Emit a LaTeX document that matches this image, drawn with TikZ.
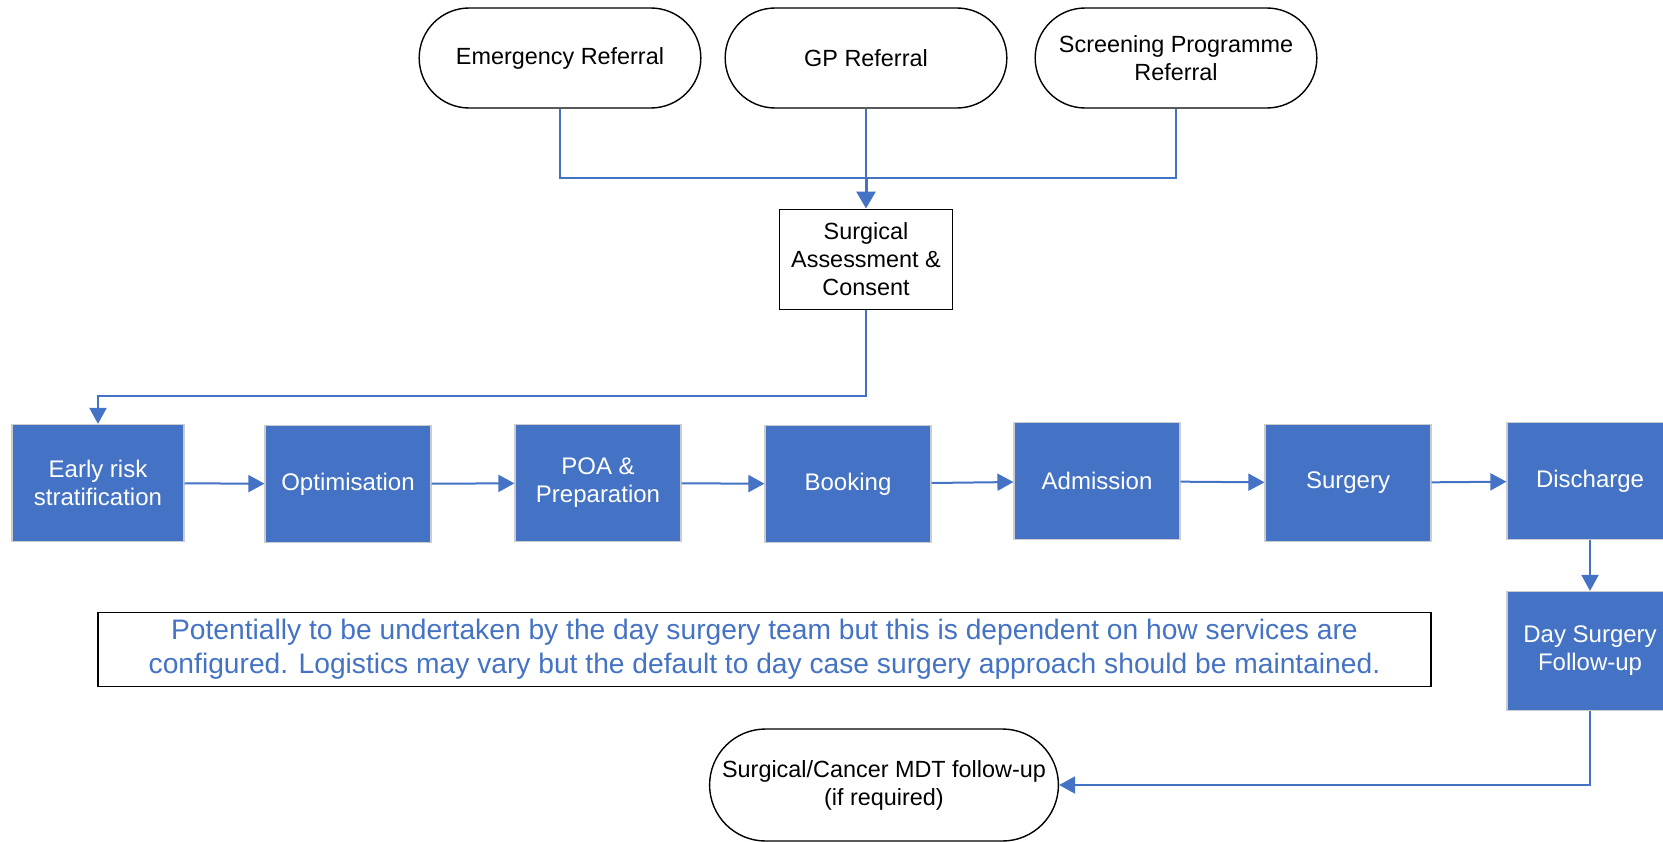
\documentclass[tikz,border=0pt]{standalone}
\usepackage{fontspec}
\setmainfont{Liberation Sans}
\usetikzlibrary{shapes.misc,arrows.meta}
\definecolor{azul}{HTML}{4472C4}
\tikzset{
	term/.style={draw,rounded rectangle,line width=.7pt,minimum width=147.5pt,minimum height=50pt,align=center,font=\fontsize{11.7}{14}\selectfont},
	caja/.style={draw,line width=.5pt,minimum width=86.5pt,minimum height=50pt,align=center,font=\fontsize{11.7}{14}\selectfont},
	paso/.style={draw=black!20,fill=azul,text=white,line width=.6pt,minimum width=83pt,minimum height=58.5pt,align=center,font=\fontsize{12}{14}\selectfont},
	linea/.style={draw=azul,line width=1pt},
	flecha/.style={linea,-{Triangle[length=8pt,width=8.5pt]}}
}
\begin{document}
\begin{tikzpicture}[x=.5pt,y=-.5pt]
			%vias de derivacion
			\useasboundingbox (0,0)rectangle(1663,841);
			\clip (0,0)rectangle(1663,841);
			\node [term] (emerg) at (560,58) {Emergency Referral};
			\node [term] (gp) at (866,58) {GP Referral};
			\node [term] (screen) at (1176,58) {Screening Programme\\Referral};
			\node [caja] (sa) at (866,259) {Surgical\\Assessment \&\\Consent};
			\coordinate (bus) at (866,178);
			\draw [linea] (emerg.south)|-(bus)-|(screen.south);
			\draw [linea] (gp.south)--(bus);
			\draw [flecha,line width=1.5pt,-{Triangle[length=8.5pt,width=9.5pt]}] (bus)--(sa.north);
			%camino del paciente
			\node [paso,minimum width=86pt] (early) at (98,483) {Early risk\\stratification};
			\node [paso] (opt) at (348,484) {Optimisation};
			\node [paso] (poa) at (598,483) {POA \&\\Preparation};
			\node [paso] (book) at (848,484) {Booking};
			\node [paso] (adm) at (1097,481) {Admission};
			\node [paso] (surg) at (1348,483) {Surgery};
			\node [paso] (dis) at (1590,481) {Discharge};
			\node [paso,minimum height=59.5pt] (ds) at (1590,651) {Day Surgery\\Follow-up};
			\node [term,minimum width=173pt,minimum height=56pt] (mdt) at (884,785) {Surgical/Cancer MDT follow-up\\(if required)};
			\draw [flecha] (sa.south)--++(0,86)-|(early.north);
			\draw [flecha] (early)--(opt);
			\draw [flecha] (opt)--(poa);
			\draw [flecha] (poa)--(book);
			\draw [flecha] (book)--(adm);
			\draw [flecha] (adm)--(surg);
			\draw [flecha] (surg)--(dis);
			\draw [flecha] (dis)--(ds);
			\draw [flecha] (ds.south)|-(mdt.east);
			\node [draw,line width=.6pt,minimum width=666.5pt,minimum height=36.5pt,align=center,text=azul,font=\fontsize{14.1}{17}\selectfont] (nota) at (764.5,649.5)
				{Potentially to be undertaken by the day surgery team but this is dependent on how services are\\configured. Logistics may vary but the default to day case surgery approach should be maintained.};
		\end{tikzpicture}
\end{document}
